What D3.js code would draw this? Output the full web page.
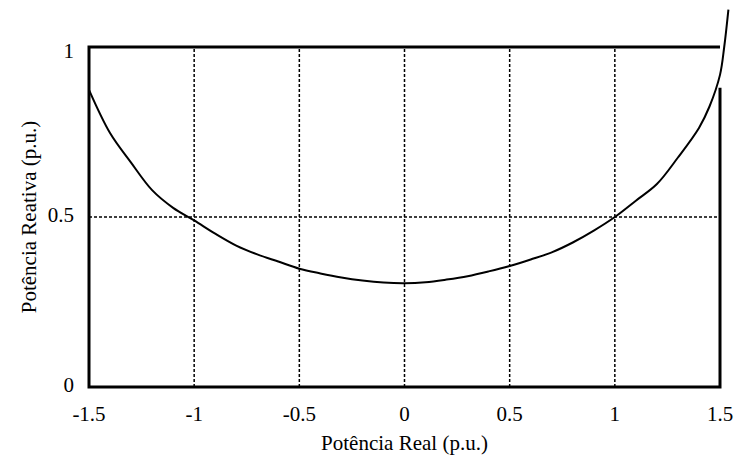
<!DOCTYPE html>
<html>
<head>
<meta charset="utf-8">
<script src="https://cdn.jsdelivr.net/npm/d3@7"></script>
<style>
  body { margin: 0; background: #fff; }
  text { font-family: "Liberation Serif", "Times New Roman", serif; fill: #000; }
</style>
</head>
<body>
<script>
// curve
const realP = [-1.5, -1.4, -1.3, -1.2, -1.1, -1.0, -0.9, -0.8, -0.7, -0.6, -0.5, -0.4, -0.3, -0.2, -0.1,
  0, 0.1, 0.2, 0.3, 0.4, 0.5, 0.6, 0.7, 0.8, 0.9, 1.0, 1.1, 1.2, 1.3, 1.4, 1.45, 1.5, 1.52, 1.54];
const reactQ = [0.874, 0.747, 0.660, 0.579, 0.527, 0.490, 0.451, 0.416, 0.390, 0.369, 0.348, 0.334, 0.322, 0.313, 0.307,
  0.305, 0.308, 0.316, 0.326, 0.340, 0.356, 0.375, 0.396, 0.425, 0.460, 0.500, 0.548, 0.597, 0.675, 0.762, 0.825, 0.918, 1.0, 1.11];

const xTicks = [-1.5, -1, -0.5, 0, 0.5, 1, 1.5];
const yTicks = [0, 0.5, 1];
const xGrid = [-1, -0.5, 0, 0.5, 1];
const yGrid = [0.5];

const width = 734, height = 468;
const margin = {top: 47, right: 14, bottom: 81, left: 89};
const fs = 21;

const svg = d3.select("body").append("svg")
  .attr("width", width)
  .attr("height", height);

const x = d3.scaleLinear().domain([-1.5, 1.5]).range([margin.left, width - margin.right]);
const y = d3.scaleLinear().domain([0, 1]).range([height - margin.bottom, margin.top]);

// grid
svg.append("g").selectAll("line").data(xGrid).join("line")
  .attr("x1", d => x(d)).attr("x2", d => x(d))
  .attr("y1", y(0)).attr("y2", y(1))
  .attr("stroke", "#000").attr("stroke-width", 1.5)
  .attr("stroke-dasharray", "3,2");

svg.append("g").selectAll("line").data(yGrid).join("line")
  .attr("x1", x(-1.5)).attr("x2", x(1.5))
  .attr("y1", d => y(d)).attr("y2", d => y(d))
  .attr("stroke", "#000").attr("stroke-width", 1.5)
  .attr("stroke-dasharray", "3,2");

// frame (right side is open where the curve leaves the box)
svg.append("path")
  .attr("d", `M${x(1.5)},${y(1)}H${x(-1.5)}V${y(0)}H${x(1.5)}V${y(0.88)}`)
  .attr("fill", "none")
  .attr("stroke", "#000")
  .attr("stroke-width", 3);

// curve
const line = d3.line()
  .x((d, i) => x(realP[i]))
  .y(d => y(d))
  .curve(d3.curveCatmullRom);

svg.append("path")
  .datum(reactQ)
  .attr("d", line)
  .attr("fill", "none")
  .attr("stroke", "#000")
  .attr("stroke-width", 2);

// tick labels
svg.append("g").selectAll("text").data(xTicks).join("text")
  .attr("x", d => x(d))
  .attr("y", 421)
  .attr("text-anchor", "middle")
  .attr("font-size", fs)
  .text(d => d);

svg.append("g").selectAll("text").data(yTicks).join("text")
  .attr("x", 74)
  .attr("y", d => y(d) + (d === 1 ? 11 : 5))
  .attr("text-anchor", "end")
  .attr("font-size", fs)
  .text(d => d);

// axis titles
svg.append("text")
  .attr("x", (x(-1.5) + x(1.5)) / 2)
  .attr("y", 450)
  .attr("text-anchor", "middle")
  .attr("font-size", fs)
  .text("Potência Real (p.u.)");

svg.append("text")
  .attr("transform", `translate(36,${(y(0) + y(1)) / 2}) rotate(-90)`)
  .attr("text-anchor", "middle")
  .attr("font-size", fs)
  .text("Potência Reativa (p.u.)");
</script>
</body>
</html>
